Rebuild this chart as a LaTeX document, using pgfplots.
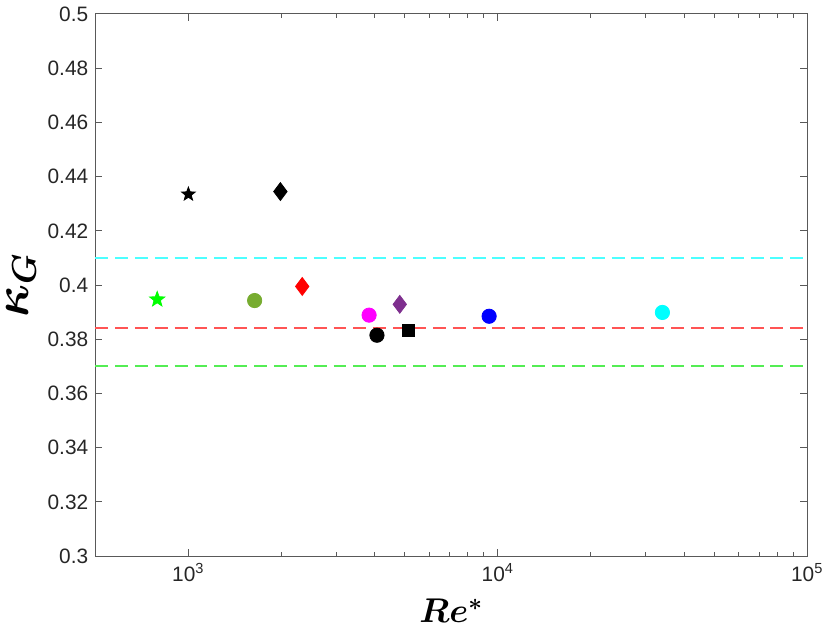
\documentclass[border=0pt]{standalone}
\usepackage{fontspec}
\setmainfont{Liberation Sans}
\usepackage{bm}
\usepackage{pgfplots}
\pgfplotsset{compat=1.18}
\definecolor{olivem}{rgb}{0.466,0.674,0.188}
\definecolor{purplem}{rgb}{0.494,0.184,0.556}
\definecolor{axgray}{rgb}{0.35,0.35,0.35}
\definecolor{cyanm}{rgb}{0,1,1}
\definecolor{magm}{rgb}{1,0,1}
\definecolor{greenm}{rgb}{0,1,0}
\definecolor{bluem}{rgb}{0,0,1}
\definecolor{redm}{rgb}{1,0,0}
\definecolor{cyanl}{rgb}{0.3,1,1}
\definecolor{redl}{rgb}{1,0.33,0.33}
\definecolor{greenl}{rgb}{0.33,0.93,0.33}
\pgfdeclareplotmark{fstar}{%
  \pgfpathmoveto{\pgfpointpolar{90}{\pgfplotmarksize}}%
  \pgfpathlineto{\pgfpointpolar{126}{0.42\pgfplotmarksize}}%
  \pgfpathlineto{\pgfpointpolar{162}{\pgfplotmarksize}}%
  \pgfpathlineto{\pgfpointpolar{198}{0.42\pgfplotmarksize}}%
  \pgfpathlineto{\pgfpointpolar{234}{\pgfplotmarksize}}%
  \pgfpathlineto{\pgfpointpolar{270}{0.42\pgfplotmarksize}}%
  \pgfpathlineto{\pgfpointpolar{306}{\pgfplotmarksize}}%
  \pgfpathlineto{\pgfpointpolar{342}{0.42\pgfplotmarksize}}%
  \pgfpathlineto{\pgfpointpolar{18}{\pgfplotmarksize}}%
  \pgfpathlineto{\pgfpointpolar{54}{0.42\pgfplotmarksize}}%
  \pgfpathclose
  \pgfusepathqfillstroke}
\begin{document}
\begin{tikzpicture}
\begin{axis}[
  scale only axis,
  width=358.5pt, height=273pt,
  xmode=log,
  xmin=500, xmax=100000,
  ymin=0.3, ymax=0.5,
  xtick={1000,10000,100000},
  xticklabels={10\textsuperscript{3},10\textsuperscript{4},10\textsuperscript{5}},
  ytick={0.3,0.32,0.34,0.36,0.38,0.4,0.42,0.44,0.46,0.48,0.5},
  /pgf/number format/assume math mode=true,
  tick label style={font=\fontsize{10.5}{12}\selectfont, text=black!85},
  axis line style={axgray, line width=0.5pt},
  tick style={axgray, line width=0.5pt},
  major tick length=3.5pt,
  minor tick length=2pt,
  tick align=inside,
  xlabel={$\bm{Re^{*}}$},
  ylabel={$\bm{\kappa_G}$},
  xlabel style={font=\fontsize{17}{19}\selectfont, yshift=-2pt},
  ylabel style={font=\fontsize{23}{25}\selectfont, yshift=-1pt},
  clip=false,
]
% reference lines
\addplot[dash pattern=on 6.5pt off 3.5pt, line width=1pt, color=cyanl] coordinates {(500,0.41) (100000,0.41)};
\addplot[dash pattern=on 6.5pt off 3.5pt, line width=1pt, color=redl] coordinates {(500,0.384) (100000,0.384)};
\addplot[dash pattern=on 6.5pt off 3.5pt, line width=1pt, color=greenl] coordinates {(500,0.37) (100000,0.37)};
% data
\addplot[only marks, mark=fstar, mark size=3.6pt, black] coordinates {(1000,0.4335)};
\addplot[only marks, mark=diamond*, mark size=4.5pt, black] coordinates {(1983,0.4345)};
\addplot[only marks, mark=fstar, mark size=4pt, greenm] coordinates {(793,0.3947)};
\addplot[only marks, mark=*, mark size=3.6pt, olivem] coordinates {(1637,0.3943)};
\addplot[only marks, mark=diamond*, mark size=4.5pt, redm] coordinates {(2333,0.3995)};
\addplot[only marks, mark=*, mark size=3.6pt, magm] coordinates {(3838,0.3889)};
\addplot[only marks, mark=*, mark size=3.6pt, black] coordinates {(4068,0.3815)};
\addplot[only marks, mark=diamond*, mark size=4.5pt, purplem] coordinates {(4821,0.3929)};
\addplot[only marks, mark=square*, mark size=3pt, black] coordinates {(5153,0.3834)};
\addplot[only marks, mark=*, mark size=3.6pt, bluem] coordinates {(9374,0.3885)};
\addplot[only marks, mark=*, mark size=3.6pt, cyanm] coordinates {(34040,0.3899)};
\end{axis}
\end{tikzpicture}
\end{document}
